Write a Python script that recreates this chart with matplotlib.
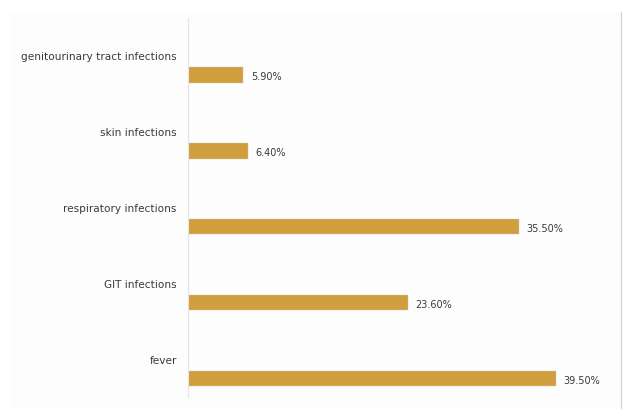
import matplotlib.pyplot as plt

categories = ['genitourinary tract infections', 'skin infections',
              'respiratory infections', 'GIT infections', 'fever']
values = [5.90, 6.40, 35.50, 23.60, 39.50]

bar_color = '#d19e3d'
text_color = '#3a3a3a'

fig = plt.figure(figsize=(6.24, 4.12), dpi=100)
fig.patch.set_facecolor('white')

# light chart-area background with faint right border, like the screenshot
bg = fig.add_axes([10 / 624, 4 / 412, 611 / 624, 396 / 412], zorder=-1)
bg.set_facecolor('#fdfdfd')
bg.set_xticks([])
bg.set_yticks([])
for s in ['top', 'left', 'bottom']:
    bg.spines[s].set_visible(False)
bg.spines['right'].set_color('#d0d0d0')
bg.spines['right'].set_linewidth(0.8)

ax = fig.add_axes([188 / 624, 15 / 412, 419 / 624, 379 / 412])
ax.patch.set_alpha(0)

pos = list(range(len(categories)))
ax.barh(pos, values, height=0.2, color=bar_color, edgecolor='#c8c8c8', linewidth=0.3)

for p, v, c in zip(pos, values, categories):
    ax.text(v + 0.85, p + 0.03, '%.2f%%' % v, va='center', ha='left',
            fontsize=7, color=text_color, family='DejaVu Sans')
    ax.text(-1.2, p - 0.24, c, va='center', ha='right', fontsize=7.6,
            color=text_color, family='DejaVu Sans')

ax.set_xlim(0, 45)
ax.set_ylim(4.24, -0.75)
ax.set_xticks([])
ax.set_yticks([])
for s in ['top', 'right', 'bottom']:
    ax.spines[s].set_visible(False)
ax.spines['left'].set_color('#e4e4e4')
ax.spines['left'].set_linewidth(0.8)

fig.savefig('out.png', dpi=100, facecolor=fig.get_facecolor())
